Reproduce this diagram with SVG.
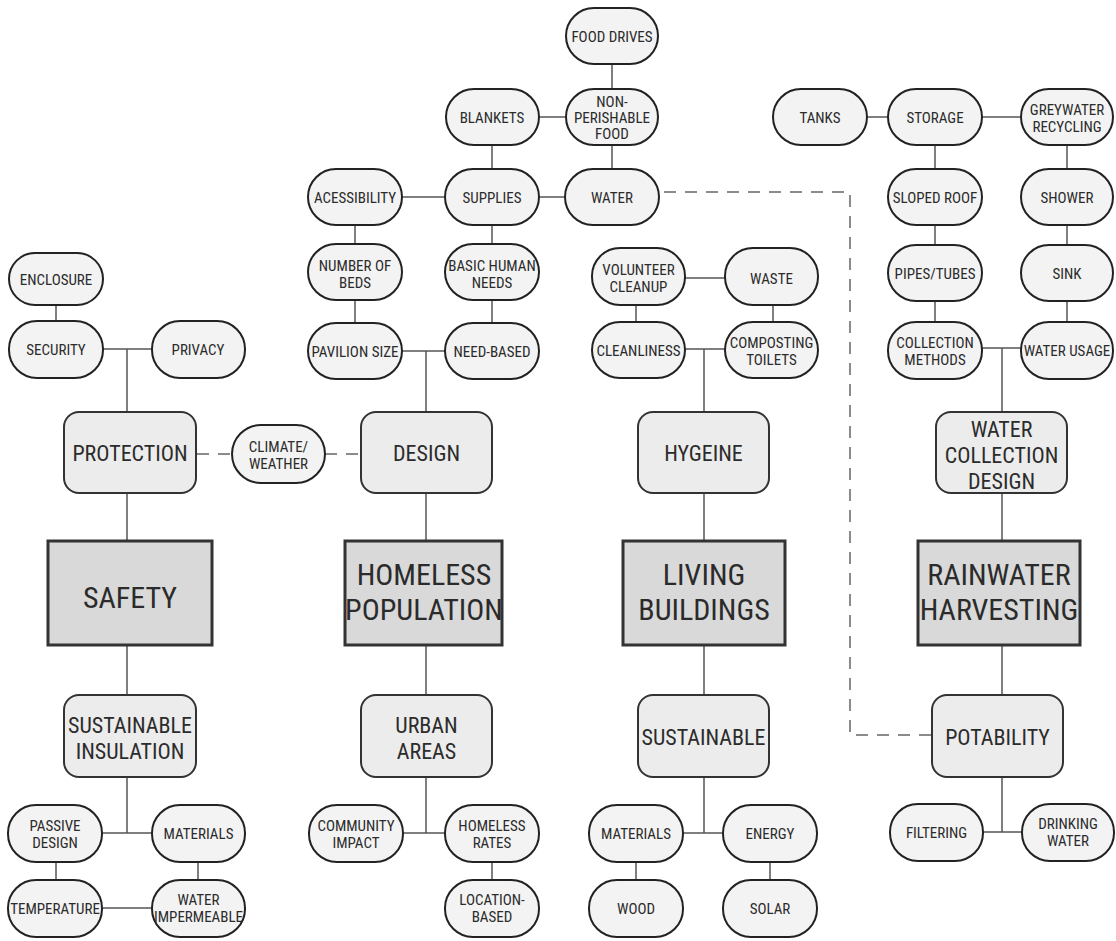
<svg xmlns="http://www.w3.org/2000/svg" width="1116" height="941" viewBox="0 0 1116 941">
  <style>
    text { font-family: "Roboto Condensed", "Liberation Sans Narrow", "DejaVu Sans Condensed", Roboto, sans-serif; fill: #2b2b2b; text-anchor: middle; }
    .pill rect { fill: #f3f3f3; stroke: #222; stroke-width: 2; }
    .pill text { font-size: 15px; }
    .box rect { fill: #ececec; stroke: #333; stroke-width: 2; }
    .box text { font-size: 22px; }
    .main rect { fill: #d9d9d9; stroke: #333; stroke-width: 3; }
    .main text { font-size: 30px; }
    .links line, .links polyline { stroke: #555; stroke-width: 1.5; fill: none; }
    .links .dash { stroke: #666; stroke-dasharray: 12 9; }
  </style>
  <rect width="1116" height="941" fill="#fff"/>

  <!-- connectors -->
  <g class="links">
    <!-- homeless population: supplies branch -->
    <line x1="612" y1="63" x2="612" y2="89"/>
    <line x1="612" y1="145" x2="612" y2="169"/>
    <line x1="539" y1="117" x2="565" y2="117"/>
    <line x1="492" y1="145" x2="492" y2="169"/>
    <line x1="492" y1="225" x2="492" y2="244"/>
    <line x1="492" y1="300" x2="492" y2="323"/>
    <line x1="402" y1="197" x2="445" y2="197"/>
    <line x1="539" y1="197" x2="565" y2="197"/>
    <line x1="355" y1="225" x2="355" y2="244"/>
    <line x1="355" y1="300" x2="355" y2="323"/>
    <line x1="402" y1="351" x2="445" y2="351"/>
    <line x1="426" y1="351" x2="426" y2="412"/>
    <!-- safety: protection branch -->
    <line x1="56" y1="305" x2="56" y2="321"/>
    <line x1="103" y1="349" x2="152" y2="349"/>
    <line x1="127" y1="349" x2="127" y2="412"/>
    <!-- safety column -->
    <line x1="127" y1="493" x2="127" y2="541"/>
    <line x1="127" y1="645" x2="127" y2="695"/>
    <line x1="127" y1="777" x2="127" y2="833"/>
    <line x1="102" y1="833" x2="152" y2="833"/>
    <line x1="56" y1="861" x2="56" y2="880"/>
    <line x1="198" y1="861" x2="198" y2="880"/>
    <line x1="102" y1="908" x2="152" y2="908"/>
    <!-- homeless column -->
    <line x1="426" y1="493" x2="426" y2="541"/>
    <line x1="426" y1="645" x2="426" y2="695"/>
    <line x1="426" y1="777" x2="426" y2="833"/>
    <line x1="403" y1="833" x2="445" y2="833"/>
    <line x1="492" y1="861" x2="492" y2="880"/>
    <!-- living buildings: hygiene branch -->
    <line x1="685" y1="278" x2="725" y2="278"/>
    <line x1="636" y1="304" x2="636" y2="322"/>
    <line x1="773" y1="304" x2="773" y2="322"/>
    <line x1="685" y1="349" x2="725" y2="349"/>
    <line x1="704" y1="349" x2="704" y2="412"/>
    <!-- living buildings column -->
    <line x1="704" y1="493" x2="704" y2="541"/>
    <line x1="704" y1="645" x2="704" y2="695"/>
    <line x1="704" y1="777" x2="704" y2="833"/>
    <line x1="683" y1="833" x2="723" y2="833"/>
    <line x1="636" y1="861" x2="636" y2="880"/>
    <line x1="770" y1="861" x2="770" y2="880"/>
    <!-- rainwater: collection branch -->
    <line x1="867" y1="117" x2="888" y2="117"/>
    <line x1="982" y1="117" x2="1021" y2="117"/>
    <line x1="935" y1="145" x2="935" y2="169"/>
    <line x1="935" y1="225" x2="935" y2="245"/>
    <line x1="935" y1="301" x2="935" y2="322"/>
    <line x1="1067" y1="145" x2="1067" y2="169"/>
    <line x1="1067" y1="225" x2="1067" y2="245"/>
    <line x1="1067" y1="301" x2="1067" y2="322"/>
    <line x1="982" y1="348" x2="1021" y2="348"/>
    <line x1="1002" y1="348" x2="1002" y2="412"/>
    <!-- rainwater column -->
    <line x1="1002" y1="493" x2="1002" y2="541"/>
    <line x1="1002" y1="645" x2="1002" y2="695"/>
    <line x1="1002" y1="777" x2="1002" y2="832"/>
    <line x1="983" y1="832" x2="1022" y2="832"/>
    <!-- dashed cross-links -->
    <line class="dash" x1="197" y1="454" x2="232" y2="454"/>
    <line class="dash" x1="325" y1="454" x2="361" y2="454"/>
    <polyline class="dash" points="664,192 850,192 850,735 932,735"/>
  </g>

  <!-- main topics -->
  <g id="safety" class="main"><rect x="48" y="541" width="164" height="104"/><text x="130" y="608">SAFETY</text></g>
  <g id="homeless-population" class="main"><rect x="345" y="541" width="157" height="104"/><text x="424" y="585">HOMELESS</text><text x="424" y="620">POPULATION</text></g>
  <g id="living-buildings" class="main"><rect x="623" y="541" width="162" height="104"/><text x="704" y="585">LIVING</text><text x="704" y="620">BUILDINGS</text></g>
  <g id="rainwater-harvesting" class="main"><rect x="918" y="541" width="162" height="104"/><text x="999" y="585">RAINWATER</text><text x="999" y="620">HARVESTING</text></g>

  <!-- sub-topics -->
  <g id="protection" class="box"><rect x="64" y="412" width="132" height="81" rx="15"/><text x="130" y="461">PROTECTION</text></g>
  <g id="design" class="box"><rect x="361" y="412" width="131" height="81" rx="15"/><text x="426.5" y="461">DESIGN</text></g>
  <g id="hygeine" class="box"><rect x="638" y="412" width="131" height="81" rx="15"/><text x="703.5" y="461">HYGEINE</text></g>
  <g id="water-collection-design" class="box"><rect x="936" y="412" width="131" height="81" rx="15"/><text x="1001.5" y="437">WATER</text><text x="1001.5" y="463">COLLECTION</text><text x="1001.5" y="489">DESIGN</text></g>
  <g id="sustainable-insulation" class="box"><rect x="64" y="695" width="132" height="82" rx="15"/><text x="130" y="733">SUSTAINABLE</text><text x="130" y="759">INSULATION</text></g>
  <g id="urban-areas" class="box"><rect x="361" y="695" width="131" height="82" rx="15"/><text x="426.5" y="733">URBAN</text><text x="426.5" y="759">AREAS</text></g>
  <g id="sustainable" class="box"><rect x="638" y="695" width="131" height="82" rx="15"/><text x="703.5" y="745">SUSTAINABLE</text></g>
  <g id="potability" class="box"><rect x="932" y="695" width="131" height="82" rx="15"/><text x="997.5" y="745">POTABILITY</text></g>

  <!-- leaf topics -->
  <g id="food-drives" class="pill"><rect x="566" y="8" width="92" height="56" rx="28"/><text x="612" y="42">FOOD DRIVES</text></g>
  <g id="blankets" class="pill"><rect x="446" y="89" width="93" height="56" rx="28"/><text x="492" y="123">BLANKETS</text></g>
  <g id="non-perishable-food" class="pill"><rect x="566" y="89" width="92" height="56" rx="28"/><text x="612" y="107">NON-</text><text x="612" y="123">PERISHABLE</text><text x="612" y="139">FOOD</text></g>
  <g id="acessibility" class="pill"><rect x="308" y="169" width="94" height="56" rx="28"/><text x="355" y="203">ACESSIBILITY</text></g>
  <g id="supplies" class="pill"><rect x="445" y="169" width="94" height="56" rx="28"/><text x="492" y="203">SUPPLIES</text></g>
  <g id="water" class="pill"><rect x="565" y="169" width="94" height="56" rx="28"/><text x="612" y="203">WATER</text></g>
  <g id="number-of-beds" class="pill"><rect x="308" y="244" width="94" height="56" rx="28"/><text x="355" y="271">NUMBER OF</text><text x="355" y="288">BEDS</text></g>
  <g id="basic-human-needs" class="pill"><rect x="445" y="244" width="94" height="56" rx="28"/><text x="492" y="271">BASIC HUMAN</text><text x="492" y="288">NEEDS</text></g>
  <g id="pavilion-size" class="pill"><rect x="308" y="323" width="94" height="56" rx="28"/><text x="355" y="357">PAVILION SIZE</text></g>
  <g id="need-based" class="pill"><rect x="445" y="323" width="94" height="56" rx="28"/><text x="492" y="357">NEED-BASED</text></g>
  <g id="enclosure" class="pill"><rect x="9" y="253" width="94" height="52" rx="26"/><text x="56" y="285">ENCLOSURE</text></g>
  <g id="security" class="pill"><rect x="9" y="321" width="94" height="57" rx="28"/><text x="56" y="355">SECURITY</text></g>
  <g id="privacy" class="pill"><rect x="152" y="321" width="93" height="57" rx="28"/><text x="198" y="355">PRIVACY</text></g>
  <g id="climate-weather" class="pill"><rect x="232" y="425" width="93" height="58" rx="29"/><text x="278.5" y="452">CLIMATE/</text><text x="278.5" y="469">WEATHER</text></g>
  <g id="volunteer-cleanup" class="pill"><rect x="592" y="248" width="93" height="57" rx="28"/><text x="638.5" y="275">VOLUNTEER</text><text x="638.5" y="292">CLEANUP</text></g>
  <g id="waste" class="pill"><rect x="725" y="248" width="93" height="57" rx="28"/><text x="771.5" y="284">WASTE</text></g>
  <g id="cleanliness" class="pill"><rect x="592" y="322" width="93" height="56" rx="28"/><text x="638.5" y="356">CLEANLINESS</text></g>
  <g id="composting-toilets" class="pill"><rect x="725" y="322" width="93" height="56" rx="28"/><text x="771.5" y="348">COMPOSTING</text><text x="771.5" y="365">TOILETS</text></g>
  <g id="tanks" class="pill"><rect x="773" y="89" width="94" height="56" rx="28"/><text x="820" y="123">TANKS</text></g>
  <g id="storage" class="pill"><rect x="888" y="89" width="94" height="56" rx="28"/><text x="935" y="123">STORAGE</text></g>
  <g id="greywater-recycling" class="pill"><rect x="1021" y="89" width="92" height="56" rx="28"/><text x="1067" y="115">GREYWATER</text><text x="1067" y="132">RECYCLING</text></g>
  <g id="sloped-roof" class="pill"><rect x="888" y="169" width="94" height="56" rx="28"/><text x="935" y="203">SLOPED ROOF</text></g>
  <g id="shower" class="pill"><rect x="1021" y="169" width="92" height="56" rx="28"/><text x="1067" y="203">SHOWER</text></g>
  <g id="pipes-tubes" class="pill"><rect x="888" y="245" width="94" height="56" rx="28"/><text x="935" y="279">PIPES/TUBES</text></g>
  <g id="sink" class="pill"><rect x="1021" y="245" width="92" height="56" rx="28"/><text x="1067" y="279">SINK</text></g>
  <g id="collection-methods" class="pill"><rect x="888" y="322" width="94" height="57" rx="28"/><text x="935" y="348">COLLECTION</text><text x="935" y="365">METHODS</text></g>
  <g id="water-usage" class="pill"><rect x="1021" y="322" width="92" height="57" rx="28"/><text x="1067" y="356">WATER USAGE</text></g>
  <g id="passive-design" class="pill"><rect x="8" y="805" width="94" height="57" rx="28"/><text x="55" y="831">PASSIVE</text><text x="55" y="848">DESIGN</text></g>
  <g id="materials-insulation" class="pill"><rect x="152" y="805" width="93" height="57" rx="28"/><text x="198.5" y="839">MATERIALS</text></g>
  <g id="temperature" class="pill"><rect x="8" y="880" width="94" height="57" rx="28"/><text x="55" y="914">TEMPERATURE</text></g>
  <g id="water-impermeable" class="pill"><rect x="152" y="880" width="93" height="57" rx="28"/><text x="198.5" y="905">WATER</text><text x="198.5" y="922">IMPERMEABLE</text></g>
  <g id="community-impact" class="pill"><rect x="309" y="805" width="94" height="57" rx="28"/><text x="356" y="831">COMMUNITY</text><text x="356" y="848">IMPACT</text></g>
  <g id="homeless-rates" class="pill"><rect x="445" y="805" width="94" height="57" rx="28"/><text x="492" y="831">HOMELESS</text><text x="492" y="848">RATES</text></g>
  <g id="location-based" class="pill"><rect x="445" y="880" width="94" height="57" rx="28"/><text x="492" y="905">LOCATION-</text><text x="492" y="922">BASED</text></g>
  <g id="materials-living" class="pill"><rect x="589" y="805" width="94" height="57" rx="28"/><text x="636" y="839">MATERIALS</text></g>
  <g id="energy" class="pill"><rect x="723" y="805" width="94" height="57" rx="28"/><text x="770" y="839">ENERGY</text></g>
  <g id="wood" class="pill"><rect x="589" y="880" width="94" height="57" rx="28"/><text x="636" y="914">WOOD</text></g>
  <g id="solar" class="pill"><rect x="723" y="880" width="94" height="57" rx="28"/><text x="770" y="914">SOLAR</text></g>
  <g id="filtering" class="pill"><rect x="890" y="804" width="93" height="57" rx="28"/><text x="936.5" y="838">FILTERING</text></g>
  <g id="drinking-water" class="pill"><rect x="1022" y="804" width="92" height="57" rx="28"/><text x="1068" y="829">DRINKING</text><text x="1068" y="846">WATER</text></g>
</svg>
